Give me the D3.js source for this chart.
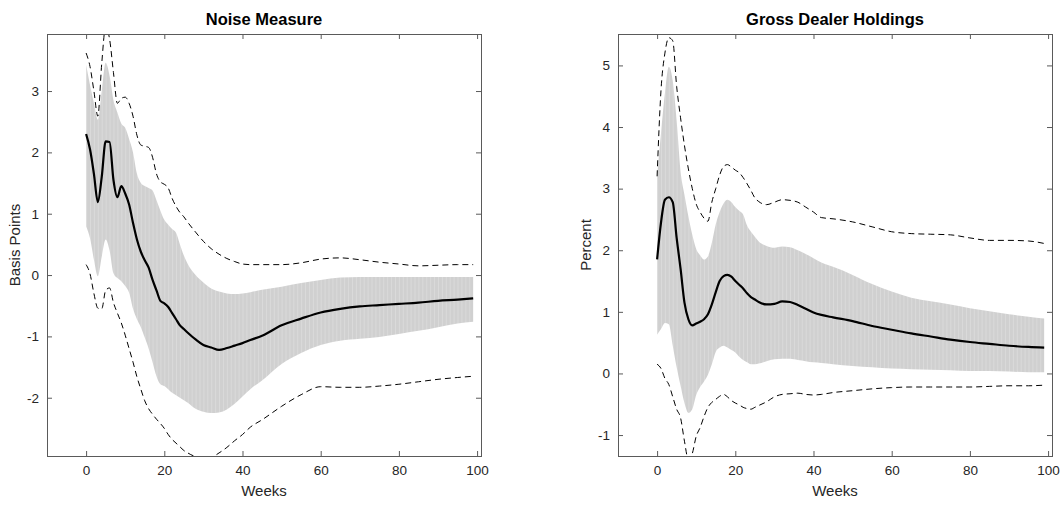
<!DOCTYPE html>
<html>
<head>
<meta charset="utf-8">
<script src="https://cdn.jsdelivr.net/npm/d3@7"></script>
<style>
  body { margin: 0; background: #fff; }
  svg { display: block; font-family: "Liberation Sans", Arial, sans-serif; }
</style>
</head>
<body>
<script>
// weeks on the horizontal axis (shared by both panels)
const weeks = [0,1,2,3,4,5,6,7,8,9,10,11,12,13,14,15,16,17,18,19,20,21,22,23,24,25,26,
  28,30,32,34,36,38,40,42,45,50,55,60,65,70,75,80,85,90,95,99];

const xTicks = [0, 20, 40, 60, 80, 100];

// Noise Measure (basis points)
const noiseMean = [2.30,2.05,1.65,1.19,1.60,2.18,2.17,1.55,1.27,1.45,1.33,1.15,0.85,0.58,0.38,0.24,0.12,-0.08,-0.25,-0.42,-0.46,-0.52,-0.62,-0.72,-0.82,-0.88,-0.94,
  -1.05,-1.14,-1.18,-1.22,-1.19,-1.15,-1.11,-1.06,-0.99,-0.82,-0.71,-0.61,-0.55,-0.51,-0.49,-0.47,-0.45,-0.42,-0.40,-0.38];
const noiseBandHi = [3.43,3.10,2.80,2.53,3.00,3.46,3.25,2.85,2.65,2.47,2.40,2.22,2.00,1.65,1.50,1.45,1.42,1.38,1.22,1.05,0.90,0.82,0.75,0.69,0.50,0.32,0.18,
  0.00,-0.12,-0.22,-0.27,-0.30,-0.31,-0.30,-0.28,-0.24,-0.19,-0.13,-0.08,-0.04,-0.03,-0.03,-0.03,-0.03,-0.03,-0.03,-0.03];
const noiseBandLo = [0.79,0.60,0.25,-0.02,0.30,0.58,0.40,0.03,-0.05,-0.10,-0.18,-0.29,-0.55,-0.72,-0.85,-1.02,-1.20,-1.42,-1.65,-1.78,-1.81,-1.86,-1.92,-1.96,-2.00,-2.04,-2.08,
  -2.18,-2.23,-2.25,-2.24,-2.19,-2.10,-1.98,-1.86,-1.72,-1.45,-1.27,-1.14,-1.07,-1.04,-1.01,-0.96,-0.91,-0.85,-0.79,-0.76];
const noiseCiHi = [3.62,3.40,3.00,2.59,3.45,4.05,3.85,3.30,2.80,2.88,2.90,2.80,2.59,2.28,2.12,2.10,2.08,1.92,1.65,1.52,1.48,1.42,1.25,1.12,1.02,0.95,0.86,
  0.70,0.55,0.43,0.34,0.27,0.22,0.18,0.17,0.17,0.17,0.20,0.26,0.28,0.25,0.21,0.18,0.15,0.16,0.17,0.17];
const noiseCiLo = [0.17,0.02,-0.30,-0.54,-0.55,-0.25,-0.21,-0.45,-0.62,-0.78,-0.98,-1.20,-1.42,-1.66,-1.86,-2.05,-2.18,-2.27,-2.35,-2.42,-2.50,-2.60,-2.68,-2.74,-2.80,-2.86,-2.90,
  -2.96,-2.98,-2.97,-2.90,-2.81,-2.70,-2.60,-2.48,-2.36,-2.14,-1.95,-1.82,-1.83,-1.83,-1.81,-1.78,-1.74,-1.70,-1.67,-1.65];
const noiseTicks = [-2, -1, 0, 1, 2, 3];

// Gross Dealer Holdings (percent)
const dealerMean = [1.85,2.45,2.82,2.86,2.78,2.20,1.70,1.15,0.88,0.78,0.81,0.84,0.88,0.96,1.12,1.32,1.50,1.58,1.60,1.57,1.50,1.44,1.38,1.30,1.24,1.20,1.16,
  1.12,1.13,1.17,1.16,1.11,1.05,0.99,0.95,0.91,0.85,0.77,0.71,0.65,0.60,0.55,0.51,0.48,0.45,0.43,0.42];
const dealerBandHi = [3.20,3.90,4.55,4.98,4.75,4.10,3.28,2.90,2.55,2.25,2.02,1.92,1.85,1.90,2.12,2.42,2.62,2.76,2.82,2.78,2.70,2.64,2.58,2.40,2.30,2.22,2.14,
  2.07,2.04,2.06,2.05,2.00,1.94,1.87,1.80,1.73,1.60,1.45,1.33,1.23,1.17,1.12,1.06,1.01,0.96,0.92,0.89];
const dealerBandLo = [0.63,0.72,0.82,0.80,0.45,0.10,-0.20,-0.48,-0.64,-0.58,-0.35,-0.22,-0.13,-0.02,0.15,0.35,0.42,0.45,0.42,0.38,0.34,0.27,0.22,0.18,0.15,0.15,0.16,
  0.20,0.23,0.24,0.24,0.22,0.20,0.18,0.17,0.15,0.12,0.10,0.08,0.07,0.06,0.05,0.04,0.04,0.03,0.02,0.02];
const dealerCiHi = [3.20,4.60,5.20,5.45,5.40,4.66,4.15,3.70,3.32,3.00,2.75,2.62,2.52,2.47,2.78,3.00,3.22,3.36,3.39,3.35,3.30,3.26,3.18,3.08,2.97,2.85,2.79,
  2.74,2.78,2.82,2.81,2.78,2.70,2.62,2.53,2.51,2.46,2.38,2.30,2.27,2.26,2.25,2.20,2.16,2.16,2.15,2.11];
const dealerCiLo = [0.15,0.08,-0.08,-0.18,-0.38,-0.58,-0.72,-1.10,-1.40,-1.30,-1.02,-0.88,-0.70,-0.55,-0.47,-0.42,-0.37,-0.34,-0.38,-0.44,-0.48,-0.51,-0.55,-0.57,-0.58,-0.55,-0.52,
  -0.46,-0.38,-0.34,-0.33,-0.32,-0.34,-0.35,-0.34,-0.31,-0.28,-0.25,-0.23,-0.22,-0.22,-0.22,-0.22,-0.21,-0.20,-0.20,-0.19];
const dealerTicks = [-1, 0, 1, 2, 3, 4, 5];

const W = 1060, H = 506;
const plotTop = 34, plotBottom = 456;
const xDomain = [-10, 101];

const svg = d3.select("body").append("svg")
  .attr("width", W)
  .attr("height", H);

const panels = [
  { id: "noise", title: "Noise Measure", ylabel: "Basis Points", x0: 47, x1: 481, yDomain: [-2.95, 3.93],
    yTicks: noiseTicks, mean: noiseMean, bandHi: noiseBandHi, bandLo: noiseBandLo, ciHi: noiseCiHi, ciLo: noiseCiLo, ylabelX: 20 },
  { id: "dealer", title: "Gross Dealer Holdings", ylabel: "Percent", x0: 618, x1: 1052, yDomain: [-1.34, 5.51],
    yTicks: dealerTicks, mean: dealerMean, bandHi: dealerBandHi, bandLo: dealerBandLo, ciHi: dealerCiHi, ciLo: dealerCiLo, ylabelX: 591 }
];

const axisColor = "#5a5a5a";
const textColor = "#262626";

panels.forEach(p => {
  const x = d3.scaleLinear().domain(xDomain).range([p.x0, p.x1]);
  const y = d3.scaleLinear().domain(p.yDomain).range([plotBottom, plotTop]);

  const defs = svg.append("defs");
  defs.append("clipPath").attr("id", "clip-" + p.id)
    .append("rect")
    .attr("x", p.x0).attr("y", plotTop)
    .attr("width", p.x1 - p.x0).attr("height", plotBottom - plotTop);

  // vertical stripe texture of the shaded band, one stripe per week
  const step = x(1) - x(0);
  const pat = defs.append("pattern").attr("id", "stripe-" + p.id)
    .attr("patternUnits", "userSpaceOnUse")
    .attr("x", x(0)).attr("y", 0)
    .attr("width", step).attr("height", 10);
  pat.append("rect").attr("width", step).attr("height", 10).attr("fill", "#d0d0d0");
  pat.append("rect").attr("width", 1).attr("height", 10).attr("fill", "#dadada");

  const g = svg.append("g").attr("clip-path", `url(#clip-${p.id})`);

  const area = d3.area()
    .x((d, i) => x(weeks[i]))
    .y0((d, i) => y(p.bandLo[i]))
    .y1((d, i) => y(p.bandHi[i]))
    .curve(d3.curveMonotoneX);

  g.append("path")
    .datum(weeks)
    .attr("fill", `url(#stripe-${p.id})`)
    .attr("d", area);

  const lineOf = vals => d3.line()
    .x((d, i) => x(weeks[i]))
    .y((d, i) => y(vals[i]))
    .curve(d3.curveMonotoneX)(weeks);

  [p.ciHi, p.ciLo].forEach(vals => {
    g.append("path")
      .attr("fill", "none")
      .attr("stroke", "#000")
      .attr("stroke-width", 1)
      .attr("stroke-dasharray", "6,4")
      .attr("d", lineOf(vals));
  });

  g.append("path")
    .attr("fill", "none")
    .attr("stroke", "#000")
    .attr("stroke-width", 2.2)
    .attr("stroke-linejoin", "round")
    .attr("d", lineOf(p.mean));

  // axes, ticks pointing inward on all four sides
  const fmt = d => String(d);
  const styleAxis = sel => {
    sel.select(".domain").remove();
    sel.selectAll(".tick line").attr("stroke", axisColor);
    sel.selectAll(".tick text").attr("fill", textColor).style("font-size", "13.5px");
  };

  svg.append("g")
    .attr("transform", `translate(0,${plotBottom})`)
    .call(d3.axisBottom(x).tickValues(xTicks).tickFormat(fmt).tickSize(-5).tickPadding(9))
    .call(styleAxis);
  svg.append("g")
    .attr("transform", `translate(0,${plotTop})`)
    .call(d3.axisTop(x).tickValues(xTicks).tickFormat("").tickSize(-5))
    .call(styleAxis);
  svg.append("g")
    .attr("transform", `translate(${p.x0},0)`)
    .call(d3.axisLeft(y).tickValues(p.yTicks).tickFormat(fmt).tickSize(-5).tickPadding(8))
    .call(styleAxis);
  svg.append("g")
    .attr("transform", `translate(${p.x1},0)`)
    .call(d3.axisRight(y).tickValues(p.yTicks).tickFormat("").tickSize(-5))
    .call(styleAxis);

  svg.append("rect")
    .attr("x", p.x0 + 0.5).attr("y", plotTop + 0.5)
    .attr("width", p.x1 - p.x0).attr("height", plotBottom - plotTop)
    .attr("fill", "none")
    .attr("stroke", axisColor)
    .attr("stroke-width", 1);

  const cx = (p.x0 + p.x1) / 2;
  svg.append("text")
    .attr("x", cx).attr("y", 25)
    .attr("text-anchor", "middle")
    .attr("font-weight", "bold")
    .attr("font-size", "16.5px")
    .attr("fill", "#000")
    .text(p.title);

  svg.append("text")
    .attr("x", cx).attr("y", 496)
    .attr("text-anchor", "middle")
    .attr("font-size", "15px")
    .attr("fill", textColor)
    .text("Weeks");

  svg.append("text")
    .attr("transform", `translate(${p.ylabelX},${(plotTop + plotBottom) / 2}) rotate(-90)`)
    .attr("text-anchor", "middle")
    .attr("font-size", "15px")
    .attr("fill", textColor)
    .text(p.ylabel);
});
</script>
</body>
</html>
